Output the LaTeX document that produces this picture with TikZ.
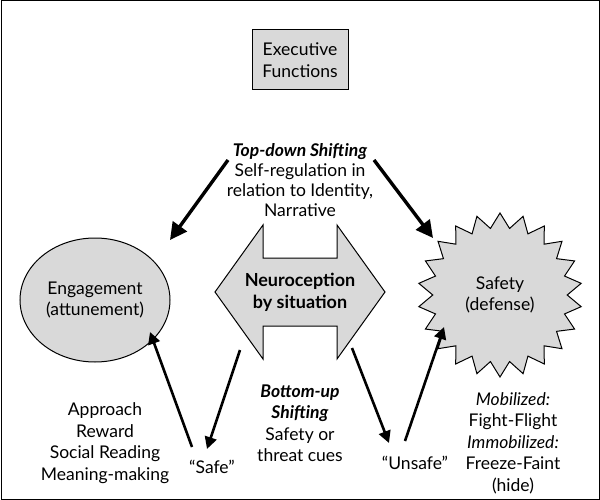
\documentclass[tikz,border=0pt]{standalone}
\usepackage{fontspec}
\setmainfont{Lato}
\usetikzlibrary{shapes.geometric,arrows.meta}
\begin{document}
\begin{tikzpicture}[x=1pt,y=-1pt,
  txt/.style={align=center,font=\fontsize{17.5}{21.5}\selectfont},
  arr/.style={line width=3.4pt,-{Triangle[length=17pt,width=17pt]}},
  sarr/.style={line width=2.6pt,-{Triangle[length=12pt,width=12pt]}}]
\useasboundingbox (0,0) rectangle (600,500);
\draw[line width=1pt] (1,1) rectangle (599,499);
\node[draw,line width=1pt,fill=gray!30,minimum width=96pt,minimum height=60pt,txt] (ef) at (300,60) {Executive\\Functions};
\node[txt,font=\fontsize{17.5}{20}\selectfont] (td) at (300,180) {\textbf{\textit{Top-down Shifting}}\\Self-regulation in\\relation to Identity,\\Narrative};
\node[ellipse,draw,line width=1pt,fill=gray!30,minimum width=150pt,minimum height=124pt,txt] (eng) at (95,300) {Engagement\\(attunement)};
\node[star,star points=22,star point ratio=1.22,draw,line width=1pt,fill=gray!30,minimum size=164pt,txt,inner sep=0pt] (saf) at (500,295) {Safety\\(defense)};
\draw[line width=1pt,fill=gray!30] (215,292) -- (263,225) -- (263,258) -- (337,258) -- (337,225) -- (385,292) -- (337,359) -- (337,326) -- (263,326) -- (263,359) -- cycle;
\node[txt,font=\fontsize{18}{22}\selectfont\bfseries] (neut) at (300,292) {Neuroception\\by situation};
\node[txt] (appr) at (105,443) {Approach\\Reward\\Social Reading\\Meaning-making};
\node[txt] (bu) at (300,423) {\textbf{\textit{Bottom-up}}\\\textbf{\textit{Shifting}}\\Safety or\\threat cues};
\node[txt] (mob) at (513,443) {\textit{Mobilized:}\\Fight-Flight\\\textit{Immobilized:}\\Freeze-Faint\\(hide)};
\node[txt] (safe) at (212,467) {“Safe”};
\node[txt] (unsafe) at (415,463) {“Unsafe”};
\coordinate (a1) at (228,160); \coordinate (a2) at (170,240);
\coordinate (b1) at (374,160); \coordinate (b2) at (433,238);
\draw[arr] (a1) -- (a2);
\draw[arr] (b1) -- (b2);
\coordinate (s1) at (240,350); \coordinate (s2) at (207,449);
\coordinate (s3) at (192,447); \coordinate (s4) at (150,332);
\coordinate (u1) at (352,348); \coordinate (u2) at (389,443);
\coordinate (u3) at (405,441); \coordinate (u4) at (444,327);
\draw[sarr] (s1) -- (s2);
\draw[sarr] (s3) -- (s4);
\draw[sarr] (u1) -- (u2);
\draw[sarr] (u3) -- (u4);
\end{tikzpicture}
\end{document}
